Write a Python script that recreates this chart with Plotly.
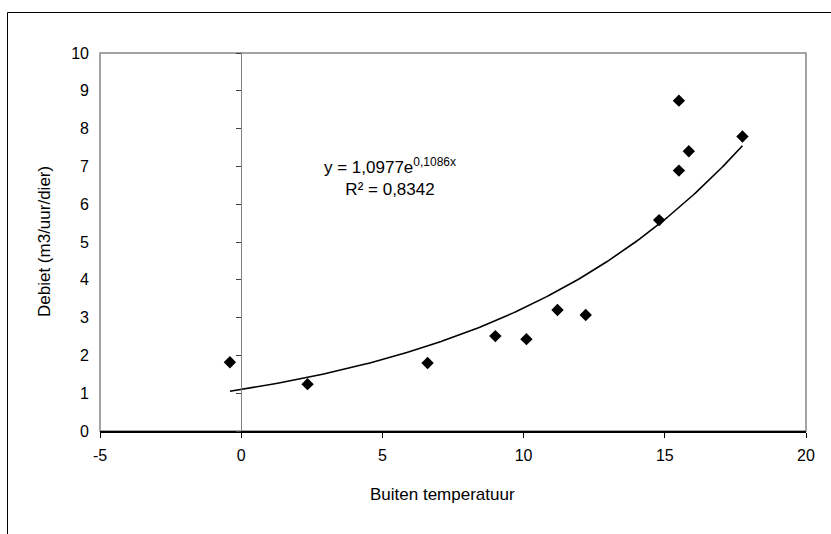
import numpy as np
import plotly.graph_objects as go

# Data
temperatuur = [-0.4, 2.35, 6.6, 9.0, 10.1, 11.2, 12.2, 14.8, 15.5, 15.5, 15.85, 17.75]
debiet = [1.82, 1.24, 1.80, 2.51, 2.43, 3.20, 3.07, 5.58, 8.74, 6.89, 7.40, 7.79]

# Exponential trendline coefficients (as printed on the chart)
trend_a = 1.0977
trend_b = 0.1086
eq_text = ("y = 1,0977e<sup><span style='font-size:12px'>0,1086x</span></sup>"
           "<br>R² = 0,8342")

x_ticks = [-5, 0, 5, 10, 15, 20]
x_ticktext = ["-5", "0", "5", "10", "15", "20"]
y_ticks = list(range(0, 11))

xt = np.linspace(min(temperatuur), max(temperatuur), 200)
yt = trend_a * np.exp(trend_b * xt)

FONT = "Liberation Sans, Arial, sans-serif"
W, H = 831, 534
L, R, T, B = 100, 25, 53, 103
pw, ph = W - L - R, H - T - B

fig = go.Figure()
fig.add_trace(go.Scatter(x=xt, y=yt, mode="lines",
                         line=dict(color="black", width=1.6), showlegend=False,
                         hoverinfo="skip"))
fig.add_trace(go.Scatter(x=temperatuur, y=debiet, mode="markers",
                         marker=dict(symbol="diamond", size=9.5, color="black"),
                         showlegend=False))
fig.add_trace(go.Scatter(x=[None], y=[None], yaxis="y2", showlegend=False))

def px_x(p):
    return (p - L) / pw

def px_y(p):
    return (H - B - p) / ph

fig.update_layout(
    width=W, height=H,
    margin=dict(l=L, r=R, t=T, b=B),
    paper_bgcolor="white", plot_bgcolor="white",
    font=dict(family=FONT, size=16, color="black"),
    xaxis=dict(range=[-5, 20], tickvals=x_ticks, ticktext=x_ticktext,
               showgrid=False, zeroline=False,
               showline=True, linecolor="black", linewidth=1.5,
               ticks="outside", ticklen=5, tickcolor="black", tickwidth=1,
               ticklabelstandoff=4, tickfont=dict(size=16, family=FONT)),
    yaxis=dict(range=[0, 10], tickvals=y_ticks, showgrid=False, zeroline=False,
               showline=False, ticks="", ticklabelstandoff=10,
               tickfont=dict(size=16, family=FONT)),
    yaxis2=dict(range=[0, 10], tickvals=y_ticks, overlaying="y", anchor="free",
                position=0.2, side="left", showgrid=False, zeroline=False,
                showline=True, linecolor="#7f7f7f", linewidth=1,
                ticks="outside", ticklen=5, tickcolor="#404040", tickwidth=1,
                showticklabels=False),
    shapes=[
        dict(type="rect", xref="paper", yref="paper", x0=0, x1=1, y0=0, y1=1,
             line=dict(color="#878787", width=1.5), layer="below"),
        dict(type="rect", xref="paper", yref="paper",
             x0=px_x(7.5), x1=px_x(W + 10), y0=px_y(H + 10), y1=px_y(12.5),
             line=dict(color="black", width=1), layer="below"),
    ],
    annotations=[
        dict(text=eq_text, x=px_x(390), y=px_y(177), xref="paper", yref="paper",
             showarrow=False, xanchor="center", yanchor="middle", align="center",
             font=dict(size=17, family=FONT)),
        dict(text="Buiten temperatuur", x=px_x(442), y=px_y(494), xref="paper",
             yref="paper", showarrow=False, xanchor="center", yanchor="middle",
             font=dict(size=17, family=FONT)),
        dict(text="Debiet (m3/uur/dier)", x=px_x(44), y=px_y(242), xref="paper",
             yref="paper", showarrow=False, xanchor="center", yanchor="middle",
             textangle=-90, font=dict(size=17, family=FONT)),
    ],
)

fig.write_html("out.html")
